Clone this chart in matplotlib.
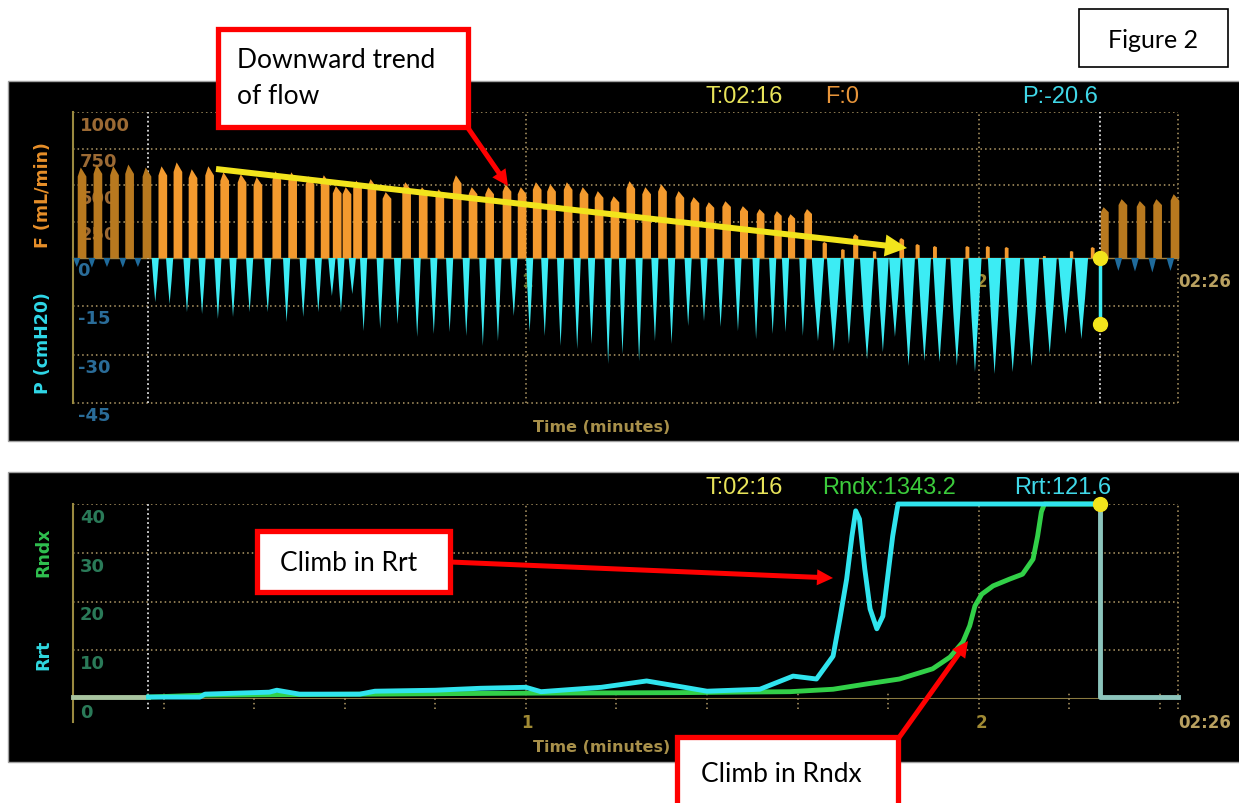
import numpy as np
import matplotlib.pyplot as plt
from matplotlib.patches import Rectangle, FancyArrow
from matplotlib.transforms import offset_copy

# ---- top trace: one entry per breath (time in s, flow in mL/min, pressure in cmH2O) ----
pre_flow_t = [1.2, 3.3, 5.5, 7.5, 9.8]
pre_flow = [620, 640, 630, 640, 620]
pre_dip_t = [0.5, 2.5, 4.5, 6.6, 8.6]
pre_dip = [-2.8, -3.0, -2.8, -3.0, -2.8]

flow_t = [11.9, 13.9, 15.9, 18.1, 20.1, 22.4, 24.5, 27.0, 29.1, 31.4,
          33.4, 35.0, 36.3, 37.7, 39.6, 41.6, 44.2, 46.4, 48.6, 50.9,
          53.0, 55.2, 57.5, 59.5, 61.5, 63.4, 65.6, 67.7, 69.7, 71.8,
          73.9, 76.0, 78.1, 80.4, 82.4, 84.4, 86.6, 88.9, 91.1, 93.4,
          95.2, 97.4, 99.6, 102.0, 103.7, 106.2, 109.8, 111.9, 114.2, 118.5,
          121.2, 123.7, 128.7, 132.3, 135.1]
flow = [628, 655, 608, 628, 587, 574, 553, 594, 587, 560,
        567, 492, 485, 530, 540, 451, 519, 485, 471, 567,
        485, 485, 505, 485, 519, 505, 519, 485, 458, 423,
        526, 485, 505, 458, 417, 382, 389, 355, 335, 321,
        300, 335, 110, 61, 164, 48, 137, 96, 82, 82,
        82, 75, 14, 48, 75]

dip_t = [10.9, 12.8, 15.1, 17.1, 19.2, 21.2, 23.4, 25.8, 28.3, 30.5,
         32.5, 34.3, 35.5, 37.0, 38.5, 40.7, 43.0, 45.6, 47.8, 49.9,
         52.1, 54.3, 56.3, 58.4, 60.5, 62.5, 64.6, 66.8, 68.7, 70.9,
         72.8, 75.0, 77.1, 79.3, 81.5, 83.6, 85.8, 88.1, 90.5, 92.7,
         94.4, 96.7, 98.7, 100.8, 102.8, 105.2, 107.3, 108.9, 110.7, 112.8,
         114.8, 117.1, 119.5, 122.1, 124.5, 127.0, 129.4, 131.5, 133.6]
dip = [-13.7, -14.3, -16.8, -17.4, -18.9, -18.3, -16.8, -16.8, -19.9, -18.3,
       -16.8, -11.8, -16.8, -11.2, -22.7, -22.0, -20.5, -24.5, -23.6, -23.0,
       -24.2, -27.3, -25.8, -18.0, -23.0, -24.2, -27.3, -28.3, -26.7, -32.9,
       -29.8, -32.0, -25.8, -26.7, -21.1, -19.6, -21.4, -22.7, -25.2, -23.6,
       -23.0, -24.2, -25.8, -28.9, -26.7, -31.4, -29.2, -24.5, -33.5, -32.0,
       -32.3, -33.5, -35.4, -36.0, -35.4, -33.5, -29.8, -23.6, -25.2]

# older sweep still on screen right of the cursor
old_flow_t = [136.7, 139.1, 141.5, 143.7, 146.0]
old_flow = [348, 403, 390, 403, 437]
old_dip_t = [138.5, 140.7, 143.0, 145.4]
old_dip = [-4.0, -4.2, -4.5, -4.0]

cursor_t = 136.0
cursor_p = -20.6

# ---- bottom trace: resistance indices ----
rrt_t = [10.0, 16.8, 17.5, 26.0, 27.0, 30.0, 38.0, 40.0, 48.0, 54.0,
         60.0, 62.0, 70.0, 76.0, 81.0, 84.0, 91.0, 95.4, 98.5, 100.7,
         101.6, 102.5, 103.2, 103.7, 104.2, 104.9, 105.6, 106.5, 107.3, 107.9,
         108.6, 109.3, 136.0]
rrt = [0.4, 0.4, 1.0, 1.4, 1.8, 1.0, 1.0, 1.6, 1.8, 2.2,
       2.4, 1.5, 2.4, 3.7, 2.4, 1.6, 2.0, 4.7, 4.1, 8.8,
       16.4, 24.6, 33.4, 38.6, 36.9, 26.7, 18.5, 14.4, 17.0, 24.6,
       33.4, 40.0, 40.0]
rndx_t = [10.0, 17.5, 40.0, 60.0, 80.0, 95.0, 100.7, 105.2, 109.5, 113.9,
          116.2, 117.9, 118.8, 119.5, 120.4, 121.9, 124.1, 125.8, 127.2, 127.8,
          128.3, 128.7, 136.0]
rndx = [0.4, 0.8, 1.0, 1.2, 1.3, 1.5, 2.0, 3.1, 4.1, 6.2,
        8.6, 11.7, 15.0, 19.1, 21.5, 23.2, 24.6, 25.6, 28.7, 33.4,
        38.4, 40.0, 40.0]
old_r_t = [0.0, 10.0]
old_r = [0.5, 0.5]
tail_r_t = [136.0, 136.0, 146.4]
tail_r = [40.0, 0.5, 0.5]

W, H = 1239, 804
T_MAX = 146.4

ORANGE = '#f39a2e'
ORANGE_OLD = '#b8791f'
CYAN = '#3cecf4'
BLUE_OLD = '#1f6b9c'
GREEN = '#32d048'
TAN = '#b49c68'
WHITE_DOT = '#dcdcdc'
YEL = '#f2e41c'

MONO = ['DejaVu Sans']
HEAD = ['Liberation Sans', 'DejaVu Sans']
NOTE = ['Lato', 'DejaVu Sans']


def rect(x0, y0, x1, y1):
    # pixel box -> figure fraction
    return [x0 / W, 1 - y1 / H, (x1 - x0) / W, (y1 - y0) / H]


def flow_shape(t, f):
    w = 0.35 + 0.8 * min(f / 400, 1)
    xs = [t - w / 2, t - w / 2, t - w * 0.15, t + w * 0.05, t + w / 2, t + w / 2]
    ys = [0, 0.9 * f, f, 0.97 * f, 0.9 * f, 0]
    return xs, ys


def dip_shape(t, p, w):
    xs = [t - w / 2, t + w / 2, t + w * 0.27, t + w * 0.08, t, t - w * 0.08, t - w * 0.27]
    ys = [0, 0, 0.5 * p, 0.85 * p, p, 0.85 * p, 0.5 * p]
    return xs, ys


fig = plt.figure(figsize=(W / 100, H / 100), dpi=100)
fig.patch.set_facecolor('white')

bg = fig.add_axes([0, 0, 1, 1], zorder=0)
bg.set_xlim(0, W)
bg.set_ylim(H, 0)
bg.axis('off')

# black monitor panels
bg.add_patch(Rectangle((8, 82), 1240, 360, fc='black', ec='#a0a0a0', lw=1))
bg.add_patch(Rectangle((8, 473), 1240, 290, fc='black', ec='#a0a0a0', lw=1))

# headers
bg.text(706, 97, 'T:02:16', color='#e8e45a', fontsize=17, family=HEAD, va='center')
bg.text(825, 97, 'F:0', color='#e8953a', fontsize=17, family=HEAD, va='center')
bg.text(1022, 97, 'P:-20.6', color='#40d8e8', fontsize=17, family=HEAD, va='center')
bg.text(706, 488, 'T:02:16', color='#e8e45a', fontsize=17, family=HEAD, va='center')
bg.text(822, 488, 'Rndx:1343.2', color='#3ccc3c', fontsize=17, family=HEAD, va='center')
bg.text(1014, 488, 'Rrt:121.6', color='#40d8e8', fontsize=17, family=HEAD, va='center')

# axis titles
bg.text(43, 195, 'F (mL/min)', color='#e8902a', fontsize=12.5, family=MONO,
        weight='bold', rotation=90, ha='center', va='center')
bg.text(43, 343, 'P (cmH20)', color='#30d8e8', fontsize=12.5, family=MONO,
        weight='bold', rotation=90, ha='center', va='center')
bg.text(43, 552, 'Rndx', color='#30c050', fontsize=12.5, family=MONO,
        weight='bold', rotation=90, ha='center', va='center')
bg.text(43, 655, 'Rrt', color='#30d8e0', fontsize=12.5, family=MONO,
        weight='bold', rotation=90, ha='center', va='center')
bg.text(602, 428, 'Time (minutes)', color='#a8904a', fontsize=11.5, family=MONO,
        weight='bold', ha='center', va='center')
bg.text(602, 748, 'Time (minutes)', color='#a8904a', fontsize=11.5, family=MONO,
        weight='bold', ha='center', va='center')

# ---- top panel ----
ax_f = fig.add_axes(rect(73, 113, 1178, 259), zorder=1)
ax_p = fig.add_axes(rect(73, 259, 1178, 404), zorder=1)
ax_f.set_xlim(0, T_MAX)
ax_f.set_ylim(0, 1000)
ax_p.set_xlim(0, T_MAX)
ax_p.set_ylim(-45, 0)
for a in (ax_f, ax_p):
    a.axis('off')

dots = (0, (1, 2))
for v in [1000, 750, 500, 250]:
    ax_f.axhline(v, color=TAN, lw=1.1, ls=dots, zorder=1)
for v in [-15, -30, -45]:
    ax_p.axhline(v, color=TAN, lw=1.1, ls=dots, zorder=1, clip_on=False)
for a in (ax_f, ax_p):
    a.axvline(60, color=TAN, lw=1.1, ls=dots, zorder=1)
    a.axvline(120, color=TAN, lw=1.1, ls=dots, zorder=1)
    a.axvline(T_MAX, color=TAN, lw=1.1, ls=dots, zorder=1, clip_on=False)
    a.axvline(10, color=WHITE_DOT, lw=1.3, ls=(0, (1, 1.5)), zorder=1)
    a.axvline(cursor_t, color=WHITE_DOT, lw=1.3, ls=(0, (1, 1.5)), zorder=1)
    a.axvline(0, color='#9a8a40', lw=1.5, zorder=1, clip_on=False)

lab_f = offset_copy(ax_f.transData, fig=fig, x=0, y=-4, units='dots')
for v, s in zip([1000, 750, 500, 250], ['1000', '750', '500', '250']):
    ax_f.text(0.9, v, s, transform=lab_f, color='#9c6a34', fontsize=13,
              family=MONO, weight='bold', va='top', zorder=1)
lab_p = offset_copy(ax_p.transData, fig=fig, x=0, y=-3, units='dots')
for v, s in zip([0, -15, -30, -45], ['0', '-15', '-30', '-45']):
    ax_p.text(0.6, v, s, transform=lab_p, color='#2a6c98', fontsize=13,
              family=MONO, weight='bold', va='top', zorder=1)
lab_x = offset_copy(ax_p.transData, fig=fig, x=0, y=-14, units='dots')
ax_p.text(60.2, 0, '1', transform=lab_x, color='#6f7a2e', fontsize=12,
          family=MONO, weight='bold', va='top', ha='center', zorder=1)
ax_p.text(120.4, 0, '2', transform=lab_x, color='#a08a34', fontsize=12,
          family=MONO, weight='bold', va='top', ha='center', zorder=1)
ax_p.text(T_MAX, 0, '02:26', transform=lab_x, color='#b8a060', fontsize=12,
          family=MONO, weight='bold', va='top', ha='left', zorder=1, clip_on=False)

for t, f in zip(pre_flow_t, pre_flow):
    xs, ys = flow_shape(t, f)
    ax_f.fill(xs, ys, color=ORANGE_OLD, lw=0, zorder=2)
for t, f in zip(flow_t, flow):
    xs, ys = flow_shape(t, f)
    ax_f.fill(xs, ys, color=ORANGE, lw=0, zorder=2)
for t, f in zip(old_flow_t, old_flow):
    xs, ys = flow_shape(t, f)
    ax_f.fill(xs, ys, color=ORANGE_OLD, lw=0, zorder=2, clip_on=False)

for t, p in zip(pre_dip_t, pre_dip):
    xs, ys = dip_shape(t, p, 0.9)
    ax_p.fill(xs, ys, color=BLUE_OLD, lw=0, zorder=2)
for t, p in zip(old_dip_t, old_dip):
    xs, ys = dip_shape(t, p, 1.0)
    ax_p.fill(xs, ys, color=BLUE_OLD, lw=0, zorder=2)
for t, p in zip(dip_t, dip):
    i = np.searchsorted(flow_t, t)
    f_next = flow[i] if i < len(flow) else 0
    w = 0.95 + 1.1 * max(0.0, 1 - f_next / 300)
    xs, ys = dip_shape(t, p, w)
    ax_p.fill(xs, ys, color=CYAN, lw=0, zorder=2)

ax_f.axhline(0, color='#a08040', lw=1, zorder=1.5, clip_on=False)
ax_p.plot([cursor_t, cursor_t], [0, cursor_p], color=CYAN, lw=2.5, zorder=3)
ax_p.plot([cursor_t, cursor_t], [0, cursor_p], 'o', color=YEL, ms=10,
          zorder=4, clip_on=False)

# ---- bottom panel ----
ax_r = fig.add_axes(rect(73, 505, 1178, 700), zorder=1)
ax_r.set_xlim(0, T_MAX)
ax_r.set_ylim(0, 40)
ax_r.axis('off')
for v in [40, 30, 20, 10]:
    ax_r.axhline(v, color=TAN, lw=1.1, ls=dots, zorder=1)
ax_r.axhline(0, color='#8a7a40', lw=1.5, zorder=1)
for x in [60, 120]:
    ax_r.axvline(x, ymin=-0.05, color=TAN, lw=1.1, ls=dots, zorder=1, clip_on=False)
ax_r.axvline(T_MAX, ymin=-0.05, color=TAN, lw=1.1, ls=dots, zorder=1, clip_on=False)
ax_r.axvline(10, ymin=-0.05, color=WHITE_DOT, lw=1.3, ls=(0, (1, 1.5)), zorder=1, clip_on=False)
ax_r.axvline(0, ymin=-0.12, color='#9a8a40', lw=1.5, zorder=1, clip_on=False)
minor = [x for x in np.arange(12, T_MAX, 12) if x not in (60, 120)]
ax_r.vlines(minor, -2, 1.5, color=TAN, lw=1.1, ls=dots, zorder=1, clip_on=False)

lab_r = offset_copy(ax_r.transData, fig=fig, x=0, y=-4, units='dots')
for v in [40, 30, 20, 10, 0]:
    ax_r.text(0.9, v, str(v), transform=lab_r, color='#2a7a58', fontsize=13,
              family=MONO, weight='bold', va='top', zorder=1, clip_on=False)
lab_rx = offset_copy(ax_r.transData, fig=fig, x=0, y=-14, units='dots')
ax_r.text(60.2, 0, '1', transform=lab_rx, color='#a08a34', fontsize=12,
          family=MONO, weight='bold', va='top', ha='center')
ax_r.text(120.4, 0, '2', transform=lab_rx, color='#a08a34', fontsize=12,
          family=MONO, weight='bold', va='top', ha='center')
ax_r.text(T_MAX, 0, '02:26', transform=lab_rx, color='#b8a060', fontsize=12,
          family=MONO, weight='bold', va='top', ha='left', clip_on=False)

ax_r.plot(old_r_t, old_r, color='#a8c4a0', lw=3.5, zorder=2, clip_on=False)
ax_r.plot(tail_r_t, tail_r, color='#8cc4bc', lw=3.5, zorder=2, clip_on=False)
ax_r.plot(rndx_t, rndx, color=GREEN, lw=3.5, zorder=3, clip_on=False)
ax_r.plot(rrt_t, rrt, color='#30e4ee', lw=3.5, zorder=4, clip_on=False)
ax_r.plot([cursor_t], [40], 'o', color=YEL, ms=10, zorder=5, clip_on=False)

# ---- annotations on top ----
ov = fig.add_axes([0, 0, 1, 1], zorder=10)
ov.set_xlim(0, W)
ov.set_ylim(H, 0)
ov.axis('off')

ov.add_patch(Rectangle((1079, 10), 149, 58, fc='white', ec='black', lw=1.2))
ov.text(1153, 40, 'Figure 2', fontsize=18, family=NOTE, ha='center', va='center')

ov.add_patch(Rectangle((218, 30), 250, 98, fc='white', ec='#ff0000', lw=3.8))
ov.text(237, 68, 'Downward trend', fontsize=19, family=NOTE, va='baseline')
ov.text(237, 104, 'of flow', fontsize=19, family=NOTE, va='baseline')

ov.add_patch(Rectangle((257, 532), 193, 61, fc='white', ec='#ff0000', lw=3.8))
ov.text(349, 571, 'Climb in Rrt', fontsize=19, family=NOTE, ha='center', va='baseline')

ov.add_patch(Rectangle((677, 738), 221, 80, fc='white', ec='#ff0000', lw=3.8))
ov.text(781, 782, 'Climb in Rndx', fontsize=19, family=NOTE, ha='center', va='baseline')

ov.add_patch(FancyArrow(216, 170, 907 - 216, 249 - 170, width=6, head_width=22,
                        head_length=22, length_includes_head=True, color=YEL, lw=0))
for (x0, y0, x1, y1) in [(468, 129, 508, 187), (450, 563, 833, 579), (898, 740, 968, 642)]:
    ov.add_patch(FancyArrow(x0, y0, x1 - x0, y1 - y0, width=5, head_width=16,
                            head_length=16, length_includes_head=True,
                            color='#ff0000', lw=0))

fig.savefig('out.png', dpi=100)
